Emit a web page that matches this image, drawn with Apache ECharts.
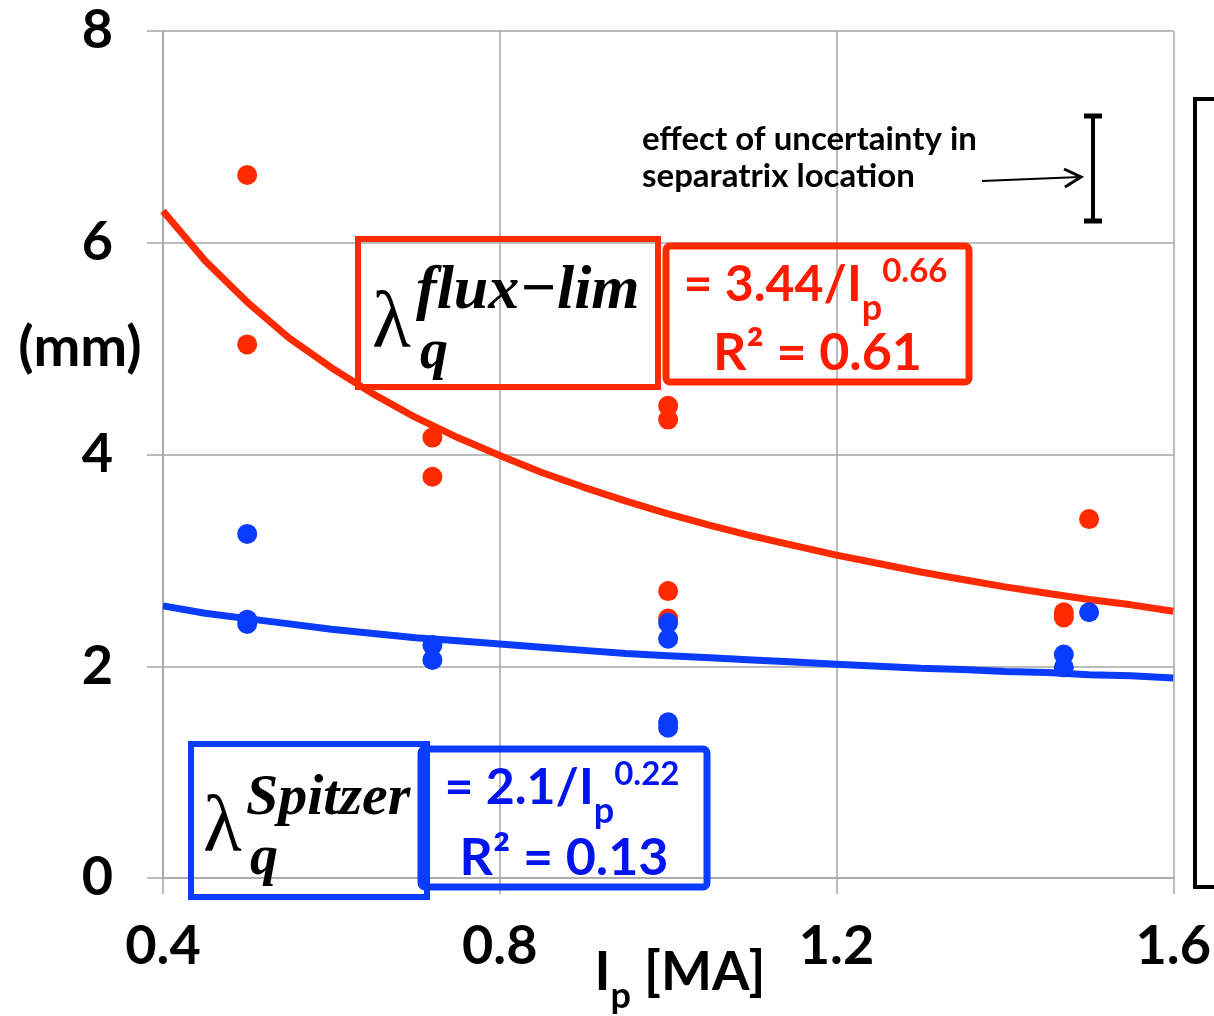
<!DOCTYPE html>
<html>
<head>
<meta charset="utf-8">
<script src="https://cdn.jsdelivr.net/npm/echarts@6/dist/echarts.min.js"></script>
<style>
  html, body { margin: 0; padding: 0; background: #fff; }
  #chart { width: 1214px; height: 1016px; }
</style>
</head>
<body>
<div id="chart"></div>
<script>
// measured points, flux-limited (red) and Spitzer (blue)
var fluxLimX = [0.5, 0.5, 0.72, 0.72, 1.0, 1.0, 1.0, 1.0, 1.47, 1.47, 1.5];
var fluxLimY = [6.64, 5.04, 4.16, 3.79, 4.46, 4.33, 2.71, 2.45, 2.51, 2.46, 3.39];
var spitzerX = [0.5, 0.5, 0.5, 0.72, 0.72, 1.0, 1.0, 1.0, 1.0, 1.47, 1.47, 1.5];
var spitzerY = [3.25, 2.44, 2.40, 2.20, 2.06, 2.41, 2.26, 1.47, 1.42, 2.11, 1.99, 2.51];

// trend lines
var fitX = [0.4, 0.45, 0.5, 0.55, 0.6, 0.65, 0.7, 0.75, 0.8, 0.85, 0.9, 0.95, 1.0,
            1.05, 1.1, 1.15, 1.2, 1.25, 1.3, 1.35, 1.4, 1.45, 1.5, 1.55, 1.6];
var fluxFitY = [6.30, 5.83, 5.44, 5.10, 4.82, 4.57, 4.35, 4.16, 3.99, 3.83, 3.69, 3.56, 3.44,
                3.33, 3.23, 3.14, 3.05, 2.97, 2.89, 2.82, 2.75, 2.69, 2.63, 2.58, 2.52];
var spitzerFitY = [2.57, 2.50, 2.45, 2.40, 2.35, 2.31, 2.27, 2.24, 2.21, 2.18, 2.15, 2.12, 2.10,
                   2.08, 2.06, 2.04, 2.02, 2.00, 1.98, 1.97, 1.95, 1.94, 1.92, 1.91, 1.89];

var RED = '#ff2a00';
var BLUE = '#0a3cff';
var GRID = '#a6a6a6';
var SANS = 'Lato, "DejaVu Sans", sans-serif';
var SERIF = '"Liberation Serif", "DejaVu Serif", serif';

function pairs(xs, ys) {
    var out = [];
    for (var i = 0; i < xs.length; i++) {
        out.push([xs[i], ys[i]]);
    }
    return out;
}

function txt(x, y, s, size, extra) {
    var st = {text: s, fontSize: size, fontFamily: SANS, fontWeight: 'bold', fill: '#000',
              align: 'left', verticalAlign: 'middle'};
    for (var k in extra) { st[k] = extra[k]; }
    return {type: 'text', x: x, y: y, style: st, z: 11};
}

var chart = echarts.init(document.getElementById('chart'));

// λ box + equation box
function fitBoxes(o) {
    return [
        {type: 'rect', shape: {x: o.bx, y: o.by, width: o.bw, height: o.bh},
         style: {fill: 'none', stroke: o.color, lineWidth: 6}, z: 10},
        {type: 'rect', shape: {x: o.ex, y: o.ey, width: o.ew, height: o.eh, r: 4},
         style: {fill: 'none', stroke: o.color, lineWidth: 7}, z: 10},
        txt(o.lx, o.ly, 'λ', 80, {fontFamily: SERIF, fontWeight: 'normal'}),
        txt(o.sx, o.sy, o.sup, o.ssize, {fontFamily: SERIF, fontStyle: 'italic'}),
        txt(o.qx, o.qy, 'q', 56, {fontFamily: SERIF, fontStyle: 'italic'}),
        {type: 'text', x: o.ex + o.ew / 2 - 2, y: o.ey + 64, z: 11,
         style: {
             text: '{m|= ' + o.coef + '/I}{s|p}{e|' + o.pow + '}',
             align: 'center', verticalAlign: 'bottom',
             rich: {
                 m: {fontSize: 50, fontWeight: 'bold', fontFamily: SANS, fill: o.text, verticalAlign: 'bottom'},
                 s: {fontSize: 36, fontWeight: 'bold', fontFamily: SANS, fill: o.text,
                     padding: [0, 0, -16, 0], verticalAlign: 'bottom'},
                 e: {fontSize: 33, fontWeight: 'bold', fontFamily: SANS, fill: o.text,
                     padding: [0, 0, 22, 0], verticalAlign: 'bottom'}
             }
         }},
        txt(o.ex + o.ew / 2, o.ey + o.eh - 3, 'R² = ' + o.r2, 52,
            {fill: o.text, align: 'center', verticalAlign: 'bottom'})
    ];
}

var graphics = [].concat(
    fitBoxes({bx: 358, by: 239, bw: 300, bh: 148, ex: 666, ey: 246, ew: 303, eh: 136,
              lx: 372, ly: 326, sx: 416, sy: 292, ssize: 62, qx: 420, qy: 354,
              color: RED, text: '#ff1a00', sup: 'flux−lim', coef: '3.44', pow: '0.66', r2: '0.61'}),
    fitBoxes({bx: 191, by: 744, bw: 236, bh: 153, ex: 421, ey: 749, ew: 286, eh: 138,
              lx: 203, ly: 830, sx: 246, sy: 799, ssize: 58, qx: 250, qy: 860,
              color: BLUE, text: '#0014ee', sup: 'Spitzer', coef: '2.1', pow: '0.22', r2: '0.13'}),
    [
        // y unit
        txt(80, 348, '(mm)', 56, {align: 'center'}),
        // x name
        {type: 'text', x: 680, y: 1000,
         style: {
             text: '{a|I}{b|p}{a| [MA]}', align: 'center', verticalAlign: 'bottom',
             rich: {
                 a: {fontSize: 54, fontWeight: 'bold', fontFamily: SANS, fill: '#000', verticalAlign: 'bottom'},
                 b: {fontSize: 36, fontWeight: 'bold', fontFamily: SANS, fill: '#000',
                     padding: [0, 0, -14, 0], verticalAlign: 'bottom'}
             }
         }},
        // annotation
        txt(642, 158, 'effect of uncertainty in\nseparatrix location', 33, {lineHeight: 37}),
        {type: 'line', shape: {x1: 982, y1: 181, x2: 1080, y2: 177}, style: {stroke: '#000', lineWidth: 2}},
        {type: 'polyline', shape: {points: [[1064, 169], [1081, 177], [1065, 187]]},
         style: {stroke: '#000', lineWidth: 3, fill: 'none'}},
        // error bar
        {type: 'line', shape: {x1: 1093, y1: 116, x2: 1093, y2: 221}, style: {stroke: '#000', lineWidth: 4}},
        {type: 'line', shape: {x1: 1084, y1: 116, x2: 1102, y2: 116}, style: {stroke: '#000', lineWidth: 5}},
        {type: 'line', shape: {x1: 1084, y1: 221, x2: 1102, y2: 221}, style: {stroke: '#000', lineWidth: 5}},
        // bracket at the right edge
        {type: 'polyline', shape: {points: [[1216, 99], [1195, 99], [1195, 887], [1216, 887]]},
         style: {stroke: '#000', lineWidth: 4, fill: 'none'}}
    ]
);

var option = {
    backgroundColor: '#fff',
    animation: false,
    grid: {left: 163, right: 39, top: 31, bottom: 138},
    xAxis: {
        type: 'value', min: 0.4, max: 1.6, interval: 0.4,
        axisLine: {onZero: false, lineStyle: {color: GRID, width: 1.5}},
        axisTick: {show: true, length: 16, lineStyle: {color: GRID, width: 1.5}},
        axisLabel: {margin: 42, fontSize: 54, fontWeight: 'bold', color: '#000', fontFamily: SANS,
                    formatter: function (v) { return v.toFixed(1); }},
        splitLine: {show: true, lineStyle: {color: GRID, width: 1.5}}
    },
    yAxis: {
        type: 'value', min: 0, max: 8, interval: 2,
        axisLine: {show: true, lineStyle: {color: GRID, width: 1.5}},
        axisTick: {show: true, length: 16, lineStyle: {color: GRID, width: 1.5}},
        axisLabel: {margin: 50, fontSize: 54, fontWeight: 'bold', color: '#000', fontFamily: SANS},
        splitLine: {show: true, lineStyle: {color: GRID, width: 1.5}}
    },
    series: [
        {type: 'line', data: pairs(fitX, fluxFitY), smooth: false, showSymbol: false,
         lineStyle: {color: RED, width: 7, join: 'round'}, z: 3},
        {type: 'line', data: pairs(fitX, spitzerFitY), smooth: false, showSymbol: false,
         lineStyle: {color: BLUE, width: 7, join: 'round'}, z: 3},
        {type: 'scatter', data: pairs(fluxLimX, fluxLimY), symbolSize: 20,
         itemStyle: {color: RED, opacity: 1}, z: 4},
        {type: 'scatter', data: pairs(spitzerX, spitzerY), symbolSize: 20,
         itemStyle: {color: BLUE, opacity: 1}, z: 5}
    ],
    graphic: graphics
};

chart.setOption(option);
</script>
</body>
</html>
